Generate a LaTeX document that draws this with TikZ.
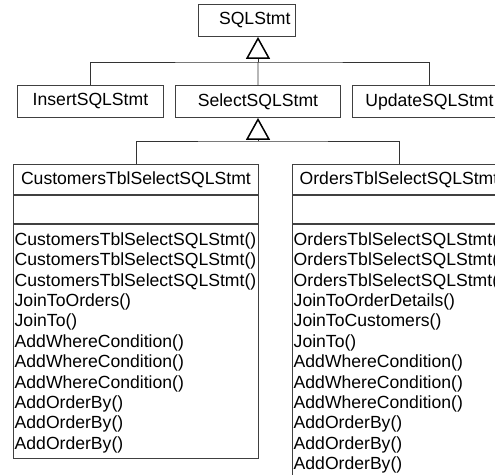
\documentclass[tikz,border=0pt]{standalone}
\usepackage{fontspec}
\setmainfont{Liberation Sans}
\usetikzlibrary{arrows.meta}

\begin{document}
\begin{tikzpicture}[x=1pt,y=-1pt,
  umlfont/.style={font=\fontsize{17.6pt}{20.4pt}\selectfont},
  umlbox/.style={draw=black!75, line width=0.9pt, inner sep=0pt, umlfont},
  titlebox/.style={umlbox, minimum height=32pt, anchor=north west},
  headbox/.style={umlbox, minimum height=30pt, anchor=north west},
  attrbox/.style={umlbox, minimum height=28.5pt, anchor=north west},
  opsbox/.style={umlbox, anchor=north west},
  opstext/.style={umlfont, anchor=north west, inner xsep=1.5pt, inner ysep=0pt, align=left},
  link/.style={draw=black!80, line width=0.9pt},
  generalization/.style={link, -{Triangle[open, length=22pt, width=24pt, line width=1.5pt, color=black]}}
]
\useasboundingbox (0,0) rectangle (495,474);
\clip (0,0) rectangle (495,474);

% root and first-level classes
\node[titlebox, text width=87pt, inner xsep=5pt, align=right] (sqlstmt) at (198,4) {SQLStmt};
\node[titlebox, minimum width=146pt] (insert) at (17,85) {InsertSQLStmt};
\node[titlebox, minimum width=165pt] (select) at (175,85) {SelectSQLStmt};
\node[titlebox, minimum width=154pt] (update) at (352,85) {UpdateSQLStmt};

% CustomersTblSelectSQLStmt class
\node[headbox, minimum width=245pt] (custHead) at (13,164) {CustomersTblSelectSQLStmt};
\node[attrbox, minimum width=245pt] (custAttr) at (custHead.south west) {};
\node[opsbox, minimum width=245pt, minimum height=233.5pt] (custOps) at (custAttr.south west) {};
\node[opstext, text width=242pt] (custOpsText) at (custOps.north west) {\rule{0pt}{20.8pt}CustomersTblSelectSQLStmt()\\
CustomersTblSelectSQLStmt()\\
CustomersTblSelectSQLStmt()\\
JoinToOrders()\\
JoinTo()\\
AddWhereCondition()\\
AddWhereCondition()\\
AddWhereCondition()\\
AddOrderBy()\\
AddOrderBy()\\
AddOrderBy()};

% OrdersTblSelectSQLStmt class
\node[headbox, minimum width=213pt] (ordHead) at (292,164) {OrdersTblSelectSQLStmt};
\node[attrbox, minimum width=213pt] (ordAttr) at (ordHead.south west) {};
\node[opsbox, minimum width=213pt, minimum height=300pt] (ordOps) at (ordAttr.south west) {};
\node[opstext, text width=240pt] (ordOpsText) at (ordOps.north west) {\rule{0pt}{20.8pt}OrdersTblSelectSQLStmt()\\
OrdersTblSelectSQLStmt()\\
OrdersTblSelectSQLStmt()\\
JoinToOrderDetails()\\
JoinToCustomers()\\
JoinTo()\\
AddWhereCondition()\\
AddWhereCondition()\\
AddWhereCondition()\\
AddOrderBy()\\
AddOrderBy()\\
AddOrderBy()};

% inheritance connectors
\coordinate (hubA) at (258,62);
\coordinate (hubB) at (258,141);
\draw[link] (insert.north) |- (hubA) -| (update.north);
\draw[link] (select.north) -- (hubA);
\draw[generalization] (hubA) -- (hubA |- sqlstmt.south);

\draw[link] (custHead.north) |- (hubB) -| (ordHead.north);
\draw[generalization] (hubB) -- (hubB |- select.south);
\end{tikzpicture}
\end{document}
